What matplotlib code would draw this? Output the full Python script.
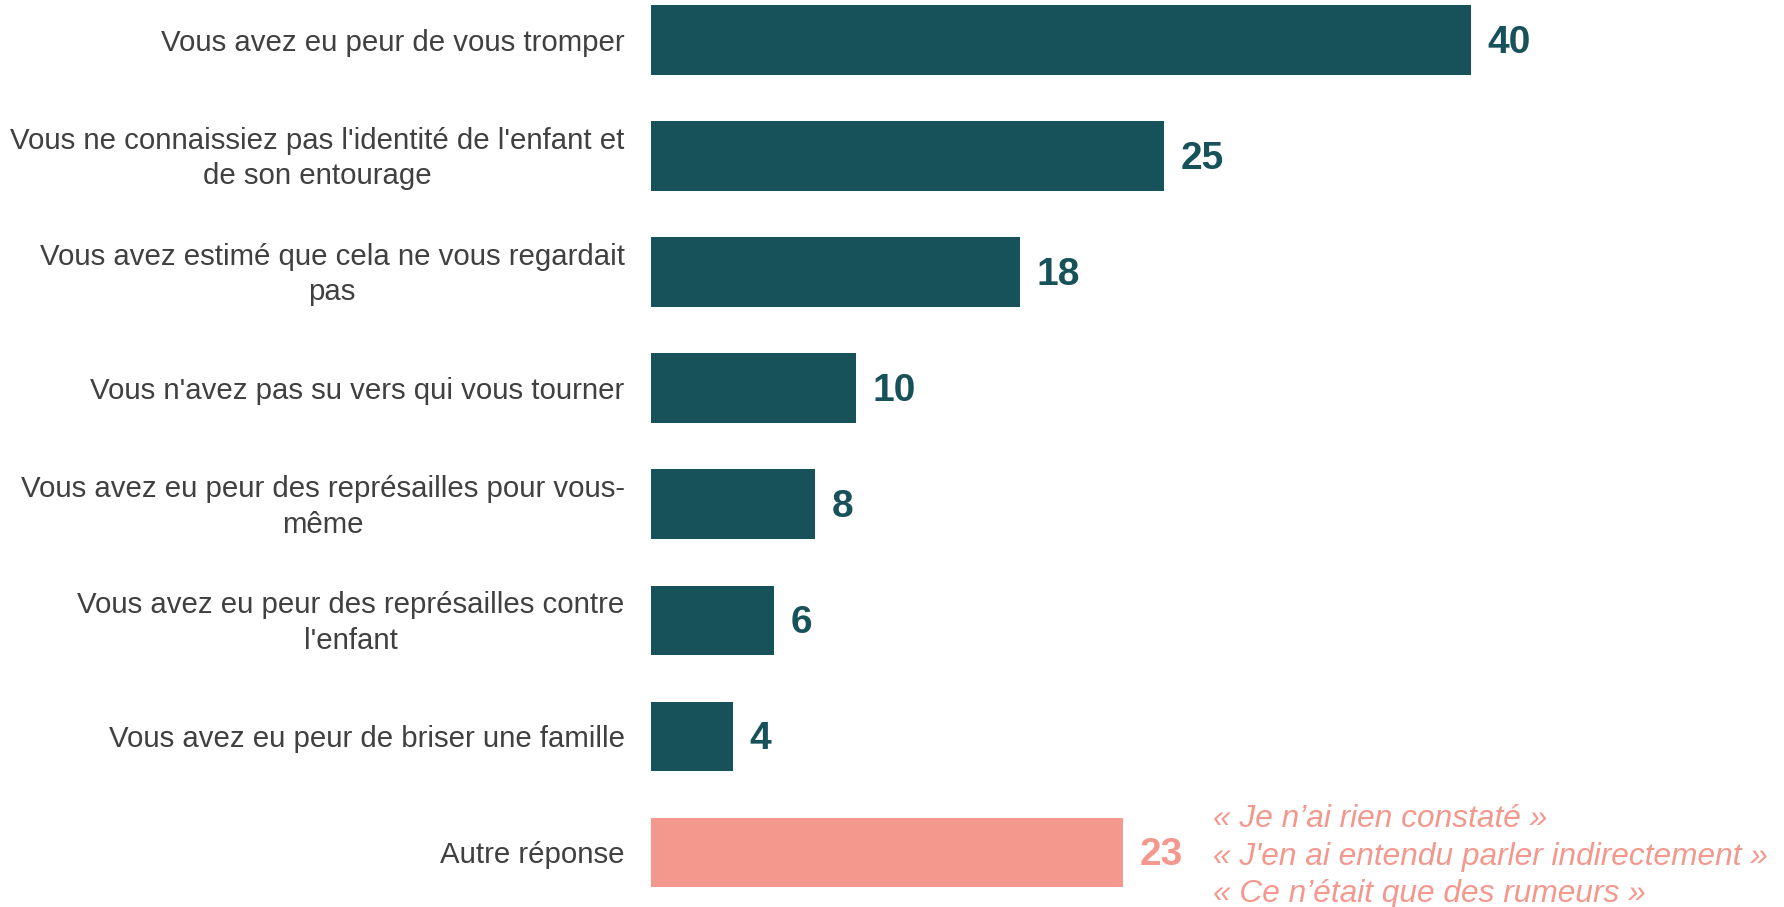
import matplotlib
matplotlib.use("Agg")
import matplotlib.pyplot as plt
from matplotlib.transforms import ScaledTranslation

categories = [
    "Vous avez eu peur de vous tromper",
    "Vous ne connaissiez pas l'identité de l'enfant et\nde son entourage",
    "Vous avez estimé que cela ne vous regardait\npas",
    "Vous n'avez pas su vers qui vous tourner",
    "Vous avez eu peur des représailles pour vous-\nmême",
    "Vous avez eu peur des représailles contre\nl'enfant",
    "Vous avez eu peur de briser une famille",
    "Autre réponse",
]
values = [40, 25, 18, 10, 8, 6, 4, 23]
value_labels = ["40", "25", "18", "10", "8", "6", "4", "23"]
quotes = [
    "« Je n’ai rien constaté »",
    "« J'en ai entendu parler indirectement »",
    "« Ce n’était que des rumeurs »",
]

TEAL = "#17515A"
PINK = "#F4988E"
GRAY = "#404040"
colors = [TEAL] * 7 + [PINK]

plt.rcParams['font.family'] = ['Liberation Sans', 'DejaVu Sans']

fig = plt.figure(figsize=(17.84, 9.07), dpi=100)
ax = fig.add_axes([651 / 1784, 0, 1 - 651 / 1784, 1])

ypos = list(range(len(categories)))
ax.barh(ypos, values, height=0.6, color=colors)

ax.set_ylim(7.47, -0.345)
ax.set_xlim(0, 1133 / 20.5)

ax.set_yticks(ypos)
ax.set_yticklabels(categories, fontsize=21.2, color=GRAY,
                   multialignment='center', linespacing=1.34, va='center')
ax.tick_params(axis='y', length=0, pad=19)
shift = ScaledTranslation(0, -2.5 / 100, fig.dpi_scale_trans)
for lab in ax.get_yticklabels():
    lab.set_transform(lab.get_transform() + shift)
ax.set_xticks([])
for s in ax.spines.values():
    s.set_visible(False)

for y, v, lab, c in zip(ypos, values, value_labels, colors):
    ax.annotate(lab, (v, y), xytext=(12, -2), textcoords='offset points',
                ha='left', va='center', fontsize=28, fontweight='bold', color=c)

ax.annotate("\n".join(quotes), (values[-1], ypos[-1]), xytext=(65, -3),
            textcoords='offset points', ha='left', va='center', fontsize=22.8,
            fontstyle='italic', color=PINK, linespacing=1.31)

fig.savefig("out.png", dpi=100)
